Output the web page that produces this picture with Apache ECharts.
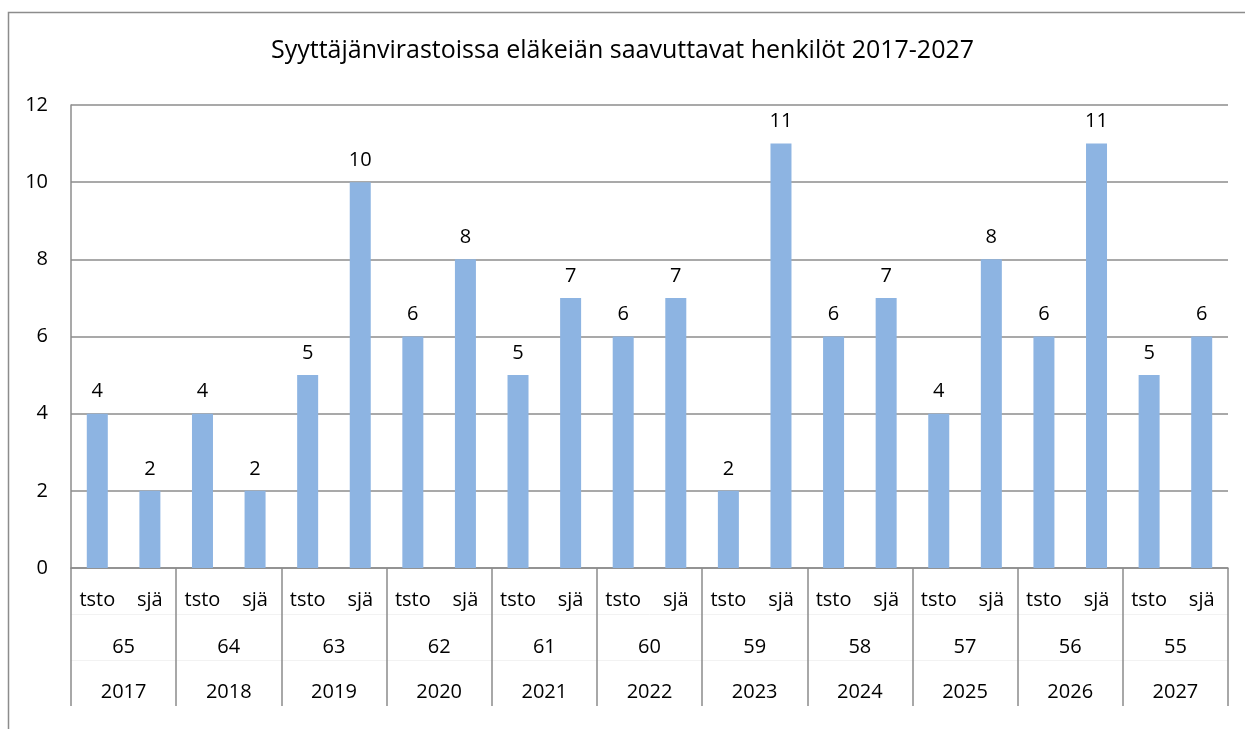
<!DOCTYPE html>
<html>
<head>
<meta charset="utf-8">
<script src="https://cdn.jsdelivr.net/npm/echarts@6/dist/echarts.min.js"></script>
<style>
  html, body { margin: 0; padding: 0; background: #fff; }
  #chart { width: 1245px; height: 729px; }
</style>
</head>
<body>
<div id="chart"></div>
<script>
// kategoriat: kolme tasoa (virasto, ikä, vuosi)
const units = ["tsto", "sjä", "tsto", "sjä", "tsto", "sjä", "tsto", "sjä", "tsto", "sjä", "tsto", "sjä",
               "tsto", "sjä", "tsto", "sjä", "tsto", "sjä", "tsto", "sjä", "tsto", "sjä"];
const ages = ["65", "64", "63", "62", "61", "60", "59", "58", "57", "56", "55"];
const years = ["2017", "2018", "2019", "2020", "2021", "2022", "2023", "2024", "2025", "2026", "2027"];
const values = [4, 2, 4, 2, 5, 10, 6, 8, 5, 7, 6, 7, 2, 11, 6, 7, 4, 8, 6, 11, 5, 6];

const font = "Open Sans";
const gray = "#8c8c8c";

const chart = echarts.init(document.getElementById("chart"), null, { renderer: "canvas" });

const option = {
  animation: false,
  textStyle: { fontFamily: font },
  title: {
    text: "Syyttäjänvirastoissa eläkeiän saavuttavat henkilöt 2017-2027",
    left: "center",
    top: 33,
    textStyle: { fontFamily: font, fontSize: 25, fontWeight: "normal", color: "#000" }
  },
  // ulkoreunus
  graphic: [{
    type: "rect",
    shape: { x: 8.5, y: 12.5, width: 1400, height: 900 },
    style: { fill: "none", stroke: gray, lineWidth: 1.5 },
    silent: true
  }],
  grid: { left: 71, right: 17, top: 105, bottom: 161 },
  xAxis: [
    {
      type: "category",
      data: units,
      axisLine: { lineStyle: { color: gray, width: 1.5 } },
      axisTick: { show: false },
      axisLabel: { color: "#000", fontSize: 20, margin: 22, interval: 0 }
    },
    {
      // ryhmien erotinviivat
      type: "category",
      data: ages,
      position: "bottom",
      axisLine: { show: false },
      axisTick: { show: true, length: 138, lineStyle: { color: gray, width: 1.5 } },
      axisLabel: { show: false }
    },
    {
      type: "category",
      data: ages,
      position: "bottom",
      offset: 46,
      axisLine: { lineStyle: { color: "#f2f2f2", width: 1 } },
      axisTick: { show: false },
      axisLabel: { color: "#000", fontSize: 20, margin: 23, interval: 0 }
    },
    {
      type: "category",
      data: years,
      position: "bottom",
      offset: 92,
      axisLine: { lineStyle: { color: "#f2f2f2", width: 1 } },
      axisTick: { show: false },
      axisLabel: { color: "#000", fontSize: 20, margin: 22, interval: 0 }
    }
  ],
  yAxis: {
    type: "value",
    min: 0,
    max: 12,
    interval: 2,
    axisLine: { show: true, lineStyle: { color: gray, width: 1.5 } },
    axisTick: { show: false },
    axisLabel: { color: "#000", fontSize: 20, margin: 23 },
    splitLine: { lineStyle: { color: gray, width: 1.5 } }
  },
  series: [
    {
      type: "bar",
      xAxisIndex: 0,
      data: values,
      barWidth: 21,
      itemStyle: { color: "#8db4e2" },
      label: { show: true, position: "top", distance: 12, color: "#000", fontSize: 20 }
    }
  ]
};

chart.setOption(option);
</script>
</body>
</html>
